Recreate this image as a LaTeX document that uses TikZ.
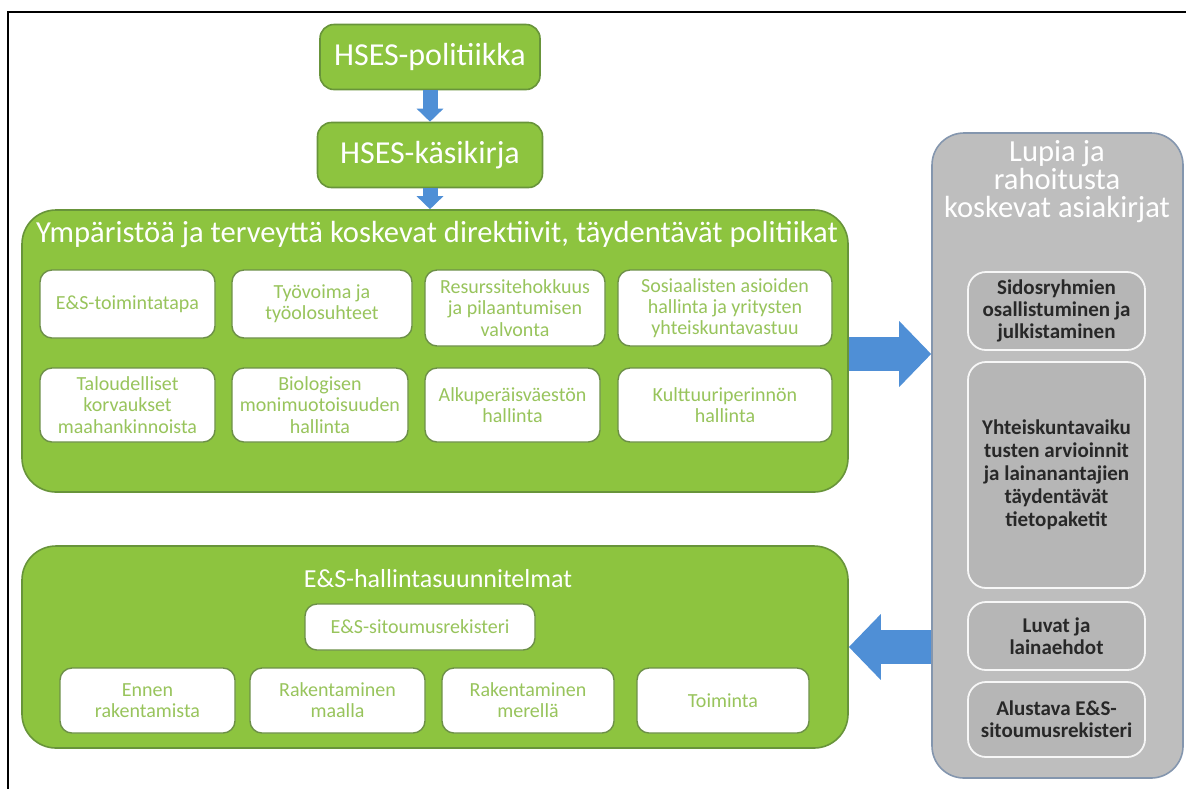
\documentclass[tikz,border=0pt]{standalone}
\usepackage{fontspec}
\setmainfont{Carlito}
\usetikzlibrary{arrows.meta,positioning}
\definecolor{leaf}{RGB}{141,196,63}
\definecolor{leafedge}{RGB}{104,148,58}
\definecolor{leaftext}{RGB}{152,196,92}
\definecolor{sky}{RGB}{79,143,214}
\definecolor{stone}{RGB}{190,190,190}
\definecolor{stoneedge}{RGB}{132,150,174}
\definecolor{ink}{RGB}{40,40,40}

\begin{document}
\begin{tikzpicture}[
  x=0.5pt,y=-0.5pt,
  greenbox/.style={
    draw=leafedge,
    fill=leaf,
    line width=0.8pt,
    rounded corners=7pt,
    text=white,
    align=center,
    font=\fontsize{16}{18}\selectfont
  },
  panel/.style={
    draw=leafedge,
    fill=leaf,
    line width=0.8pt,
    rounded corners=17pt
  },
  item/.style={
    draw=leafedge!80!gray,
    fill=white,
    line width=0.7pt,
    rounded corners=6pt,
    text=leaftext,
    align=center,
    inner sep=1pt,
    font=\fontsize{10}{10.6}\selectfont
  },
  docs/.style={
    draw=stoneedge,
    fill=stone,
    line width=0.8pt,
    rounded corners=16pt
  },
  doc/.style={
    draw=white!88!stone,
    fill=stone!96!black,
    line width=0.9pt,
    rounded corners=9pt,
    text=ink,
    align=center,
    inner sep=1pt,
    font=\bfseries\fontsize{10.5}{11}\selectfont
  },
  flow/.style={
    draw=sky,
    line width=#1,
    -{Triangle[length=6.5pt,width=13pt]}
  },
  flow/.default=7.5pt,
  bigflow/.style={
    draw=sky,
    line width=17pt,
    -{Triangle[length=16pt,width=32pt]}
  }
]
\useasboundingbox (0,0) rectangle (1186,789);

% frame
\coordinate (corner) at (8,12);
\draw[line width=0.8pt] (1186,12) -- (corner) -- (8,789);

% policy and handbook
\node[greenbox,minimum width=110pt,minimum height=32.5pt]
  (pol) at (430,57) {HSES-politiikka};
\node[greenbox,minimum width=112.5pt,minimum height=32.5pt]
  (kas) at (430,155) {HSES-käsikirja};

% directives panel
\node[panel,minimum width=413pt,minimum height=141pt] (dir) at (435,351) {};
\node[text=white,font=\fontsize{15.3}{18}\selectfont]
  (dirtitle) at (437,234)
  {Ympäristöä ja terveyttä koskevat direktiivit, täydentävät politiikat};

\node[item,minimum width=87.5pt,minimum height=34pt] (ens) at (127.5,304)
  {E\&S-toimintatapa};
\node[item,minimum width=90pt,minimum height=34pt] (tyo) at (322,304)
  {Työvoima ja\\ työolosuhteet};
\node[item,minimum width=90pt,minimum height=38pt] (res) at (515,308)
  {Resurssitehokkuus\\ ja pilaantumisen\\ valvonta};
\node[item,minimum width=107pt,minimum height=38pt] (sos) at (725,308)
  {Sosiaalisten asioiden\\ hallinta ja yritysten\\ yhteiskuntavastuu};
\node[item,minimum width=87.5pt,minimum height=37pt] (tal) at (127.5,405)
  {Taloudelliset\\ korvaukset\\ maahankinnoista};
\node[item,minimum width=88pt,minimum height=37pt] (bio) at (320,405)
  {Biologisen\\ monimuotoisuuden\\ hallinta};
\node[item,minimum width=87.5pt,minimum height=37pt] (alk) at (512.5,405)
  {Alkuperäisväestön\\ hallinta};
\node[item,minimum width=107pt,minimum height=37pt] (kul) at (725,405)
  {Kulttuuriperinnön\\ hallinta};

% permit and finance documents
\node[docs,minimum width=125.5pt,minimum height=322.5pt] (lupa) at (1057.5,455.5) {};
\node[text=white,align=center,font=\fontsize{15.3}{14}\selectfont]
  (lupatitle) at (1057,182) {Lupia ja\\ rahoitusta\\ koskevat asiakirjat};
\node[doc,minimum width=88.5pt,minimum height=39pt] (sid) at (1056.5,311)
  {Sidosryhmien\\ osallistuminen ja\\ julkistaminen};
\node[doc,minimum width=88.5pt,minimum height=113pt,
  font=\bfseries\fontsize{10.5}{11.5}\selectfont] (yht) at (1056.5,475)
  {Yhteiskuntavaiku\\ tusten arvioinnit\\ ja lainanantajien\\ täydentävät\\ tietopaketit};
\node[doc,minimum width=88.5pt,minimum height=34pt] (luv) at (1056.5,636)
  {Luvat ja\\ lainaehdot};
\node[doc,minimum width=88.5pt,minimum height=37.5pt] (alu) at (1056.5,719.5)
  {Alustava E\&S-\\ sitoumusrekisteri};

% management plans panel
\node[panel,minimum width=413pt,minimum height=101pt] (hal) at (435,647) {};
\node[text=white,font=\fontsize{13}{15}\selectfont]
  (haltitle) at (438,579) {E\&S-hallintasuunnitelmat};
\node[item,minimum width=115pt,minimum height=23pt] (sit) at (420,627)
  {E\&S-sitoumusrekisteri};
\node[item,minimum width=87.5pt,minimum height=32.5pt] (enn) at (147.5,700.5)
  {Ennen\\ rakentamista};
\node[item,minimum width=87.5pt,minimum height=32.5pt] (maa) at (337.5,700.5)
  {Rakentaminen\\ maalla};
\node[item,minimum width=86pt,minimum height=32.5pt] (mer) at (528,700.5)
  {Rakentaminen\\ merellä};
\node[item,minimum width=86pt,minimum height=32.5pt] (toi) at (723,700.5)
  {Toiminta};

% arrows
\draw[flow] (pol.south) -- (kas.north);
\draw[flow] (kas.south) -- (kas.south |- dir.north);
\draw[bigflow] (dir.east |- 0,354) -- (lupa.west |- 0,354);
\draw[bigflow] (lupa.west |- hal.east) -- (hal.east);
\end{tikzpicture}
\end{document}
